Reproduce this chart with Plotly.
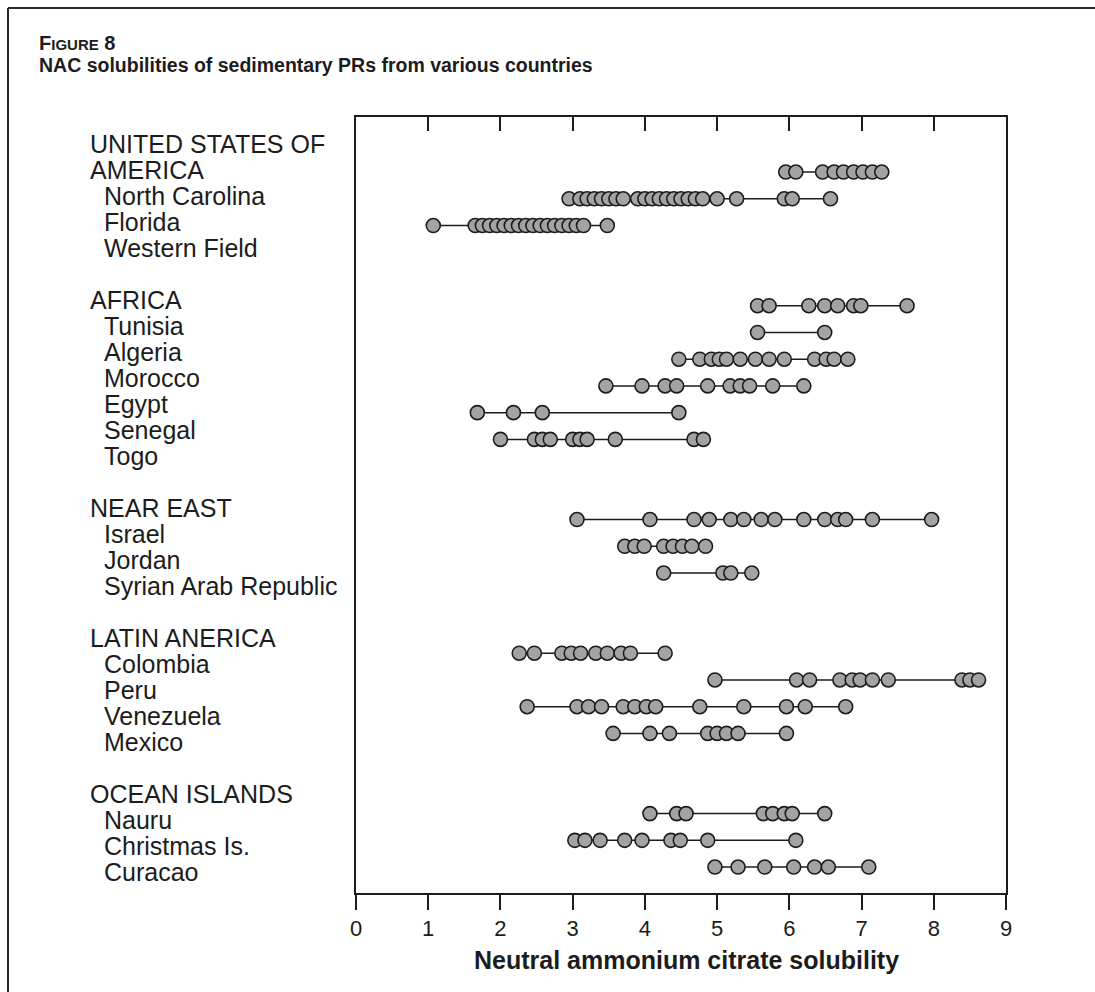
import plotly.graph_objects as go

# ---------------- data ----------------
group_names = ["UNITED STATES OF AMERICA", "AFRICA", "NEAR EAST", "LATIN ANERICA", "OCEAN ISLANDS"]
group_members = [
    ["North Carolina", "Florida", "Western Field"],
    ["Tunisia", "Algeria", "Morocco", "Egypt", "Senegal", "Togo"],
    ["Israel", "Jordan", "Syrian Arab Republic"],
    ["Colombia", "Peru", "Venezuela", "Mexico"],
    ["Nauru", "Christmas Is.", "Curacao"],
]

north_carolina = [5.95, 6.09, 6.46, 6.62, 6.75, 6.89, 7.02, 7.15, 7.28]
florida = [2.95, 3.1, 3.2, 3.3, 3.4, 3.5, 3.6, 3.7, 3.9, 4.0, 4.1, 4.2, 4.3, 4.4, 4.5,
           4.6, 4.7, 4.8, 5.0, 5.27, 5.93, 6.04, 6.57]
western_field = [1.07, 1.65, 1.75, 1.85, 1.95, 2.05, 2.15, 2.25, 2.35, 2.45, 2.55, 2.65,
                 2.75, 2.85, 2.95, 3.05, 3.15, 3.48]
tunisia = [5.56, 5.72, 6.27, 6.49, 6.67, 6.89, 6.99, 7.63]
algeria = [5.56, 6.49]
morocco = [4.47, 4.76, 4.92, 5.03, 5.13, 5.32, 5.53, 5.72, 5.93, 6.35, 6.51, 6.62, 6.81]
egypt = [3.46, 3.96, 4.28, 4.44, 4.87, 5.18, 5.32, 5.45, 5.77, 6.2]
senegal = [1.68, 2.18, 2.58, 4.47]
togo = [2.0, 2.47, 2.58, 2.69, 3.0, 3.1, 3.2, 3.59, 4.68, 4.81]
israel = [3.06, 4.07, 4.68, 4.89, 5.19, 5.37, 5.61, 5.80, 6.20, 6.49, 6.67, 6.78, 7.15, 7.97]
jordan = [3.72, 3.86, 3.99, 4.26, 4.39, 4.52, 4.65, 4.84]
syria = [4.26, 5.08, 5.19, 5.48]
colombia = [2.26, 2.47, 2.85, 2.98, 3.11, 3.32, 3.48, 3.67, 3.80, 4.28]
peru = [4.97, 6.1, 6.28, 6.70, 6.87, 6.98, 7.15, 7.37, 8.39, 8.5, 8.62]
venezuela = [2.37, 3.06, 3.22, 3.4, 3.7, 3.86, 4.02, 4.15, 4.76, 5.37, 5.96, 6.22, 6.78]
mexico = [3.56, 4.07, 4.34, 4.87, 5.0, 5.13, 5.29, 5.96]
nauru = [4.07, 4.44, 4.57, 5.64, 5.77, 5.93, 6.04, 6.49]
christmas = [3.03, 3.17, 3.38, 3.72, 3.96, 4.36, 4.49, 4.87, 6.09]
curacao = [4.97, 5.29, 5.66, 6.06, 6.35, 6.54, 7.1]

group_values = [
    [north_carolina, florida, western_field],
    [tunisia, algeria, morocco, egypt, senegal, togo],
    [israel, jordan, syria],
    [colombia, peru, venezuela, mexico],
    [nauru, christmas, curacao],
]

label_lines = [
    "UNITED STATES OF", "AMERICA", "North Carolina", "Florida", "Western Field", "",
    "AFRICA", "Tunisia", "Algeria", "Morocco", "Egypt", "Senegal", "Togo", "",
    "NEAR EAST", "Israel", "Jordan", "Syrian Arab Republic", "",
    "LATIN ANERICA", "Colombia", "Peru", "Venezuela", "Mexico", "",
    "OCEAN ISLANDS", "Nauru", "Christmas Is.", "Curacao",
]
header_lines = {"UNITED STATES OF", "AMERICA", "AFRICA", "NEAR EAST", "LATIN ANERICA", "OCEAN ISLANDS"}

x_ticks = list(range(0, 10))

# ---------------- layout geometry ----------------
W, H = 1095, 992
L, R, T, B = 356, 1006, 117, 893
FONT = "Liberation Sans, Arial, sans-serif"
INK = "#1c1c1c"


def px(xp):
    return (xp - L) / (R - L)


def py(yp):
    return (B - yp) / (B - T)


fig = go.Figure()

# rows: header row, then member rows, then a blank row
row = -1
for gname, members, vals in zip(group_names, group_members, group_values):
    for i, (name, v) in enumerate(zip(members, vals)):
        r = row + 1 + i
        xs = sorted(v)
        fig.add_trace(go.Scatter(
            x=xs, y=[r] * len(xs), mode="lines+markers", name=name,
            line=dict(color=INK, width=1.5),
            marker=dict(symbol="circle", size=14, color="#a3a3a3",
                        line=dict(color=INK, width=1.6)),
            showlegend=False, hoverinfo="x+name",
        ))
    row += len(members) + 2

# invisible trace to carry the top tick axis
fig.add_trace(go.Scatter(x=[0, 9], y=[0, 0], xaxis="x2", mode="markers",
                         marker=dict(opacity=0), showlegend=False, hoverinfo="skip"))

annotations = []
# title
annotations.append(dict(
    text="<b>F<span style='font-size:15px'>IGURE</span> 8</b>",
    xref="paper", yref="paper", x=px(37), y=py(43), xanchor="left", yanchor="middle",
    showarrow=False, font=dict(family=FONT, size=20, color=INK)))
annotations.append(dict(
    text="<b>NAC solubilities of sedimentary PRs from various countries</b>",
    xref="paper", yref="paper", x=px(37), y=py(65), xanchor="left", yanchor="middle",
    showarrow=False, font=dict(family=FONT, size=19.5, color=INK)))

# row labels block
for i, txt in enumerate(label_lines):
    if not txt:
        continue
    xl = 88 if txt in header_lines else 102
    annotations.append(dict(
        text=txt, xref="paper", yref="paper", x=px(xl), y=py(144 + 26 * i),
        xanchor="left", yanchor="middle", showarrow=False,
        font=dict(family=FONT, size=25, color=INK)))

# x axis title
annotations.append(dict(
    text="<b>Neutral ammonium citrate solubility</b>",
    xref="paper", yref="paper", x=px(686), y=py(960), xanchor="center", yanchor="middle",
    showarrow=False, font=dict(family=FONT, size=25, color=INK)))

shapes = [
    dict(type="line", xref="paper", yref="paper", x0=px(8), x1=px(1100), y0=py(8), y1=py(8),
         line=dict(color="#2a2a2a", width=2)),
    dict(type="line", xref="paper", yref="paper", x0=px(8), x1=px(8), y0=py(8), y1=py(1000),
         line=dict(color="#2a2a2a", width=2)),
]

fig.update_layout(
    width=W, height=H,
    margin=dict(l=L, r=W - R, t=T, b=H - B, pad=0),
    paper_bgcolor="white", plot_bgcolor="white",
    font=dict(family=FONT, color=INK),
    xaxis=dict(range=[0, 9], tickvals=x_ticks, ticktext=[str(t) for t in x_ticks],
               ticks="outside", ticklen=15, tickwidth=2, tickcolor=INK,
               showline=True, linewidth=2, linecolor=INK, mirror=True,
               showgrid=False, zeroline=False,
               tickfont=dict(family=FONT, size=22, color=INK)),
    xaxis2=dict(range=[0, 9], overlaying="x", side="top", anchor="y",
                tickvals=x_ticks[1:-1], ticks="inside", ticklen=14, tickwidth=2,
                tickcolor=INK, showticklabels=False, showline=False,
                showgrid=False, zeroline=False),
    yaxis=dict(range=[26.97, -2.06], showticklabels=False, ticks="",
               showline=True, linewidth=2, linecolor=INK, mirror=True,
               showgrid=False, zeroline=False),
    annotations=annotations,
    shapes=shapes,
    showlegend=False,
)

fig.write_html("out.html")
